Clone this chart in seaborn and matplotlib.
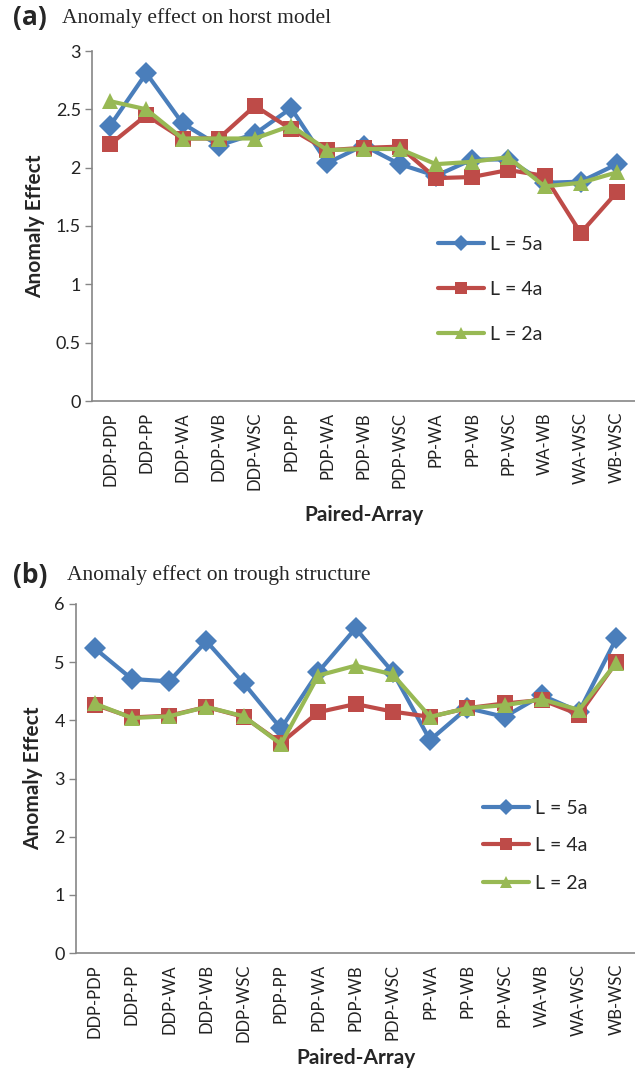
import matplotlib
matplotlib.use("Agg")
import matplotlib.pyplot as plt
import seaborn as sns
import pandas as pd
import numpy as np

pairs = ["DDP-PDP", "DDP-PP", "DDP-WA", "DDP-WB", "DDP-WSC", "PDP-PP", "PDP-WA",
         "PDP-WB", "PDP-WSC", "PP-WA", "PP-WB", "PP-WSC", "WA-WB", "WA-WSC", "WB-WSC"]
series_names = ["L = 5a", "L = 4a", "L = 2a"]

horst_5a = [2.36, 2.81, 2.38, 2.19, 2.29, 2.51, 2.04, 2.19, 2.03, 1.93, 2.07, 2.07, 1.87, 1.88, 2.03]
horst_4a = [2.20, 2.45, 2.25, 2.25, 2.53, 2.33, 2.15, 2.17, 2.18, 1.91, 1.92, 1.98, 1.93, 1.44, 1.79]
horst_2a = [2.57, 2.50, 2.25, 2.25, 2.25, 2.36, 2.15, 2.16, 2.16, 2.03, 2.05, 2.09, 1.84, 1.87, 1.96]

trough_5a = [5.24, 4.71, 4.67, 5.36, 4.64, 3.86, 4.83, 5.58, 4.83, 3.66, 4.21, 4.06, 4.43, 4.15, 5.41]
trough_4a = [4.27, 4.05, 4.08, 4.23, 4.06, 3.61, 4.14, 4.28, 4.15, 4.06, 4.21, 4.29, 4.35, 4.10, 5.00]
trough_2a = [4.29, 4.04, 4.07, 4.23, 4.07, 3.59, 4.77, 4.94, 4.79, 4.06, 4.21, 4.26, 4.36, 4.18, 4.99]

colors = ["#4A7EBB", "#BE4B48", "#98B954"]
markers = ["D", "s", "^"]

def long_df(vals):
    rows = []
    for name, v in zip(series_names, vals):
        for p, y in zip(pairs, v):
            rows.append({"pair": p, "value": y, "series": name})
    return pd.DataFrame(rows)

sns.set_style("white")
plt.rcParams["font.family"] = ["Lato", "DejaVu Sans"]

fig = plt.figure(figsize=(6.35, 10.74), dpi=100)
ax1 = fig.add_axes([92/635, 1-401/1074, 543/635, 350/1074])
ax2 = fig.add_axes([76/635, 1-953/1074, 559/635, 349/1074])

gray = "#868686"

def draw(ax, vals, ymax, ystep, title_letter, title_text, leg_xy, leg_spacing,
         title_y, text_x, xlabel_y):
    df = long_df(vals)
    sns.lineplot(data=df, x="pair", y="value", hue="series", style="series",
                 markers=markers, dashes=False, palette=colors, linewidth=3,
                 markersize=11, markeredgewidth=0, sort=False, ax=ax)
    ax.set_xlim(-0.5, len(pairs) - 0.5)
    ax.set_ylim(0, ymax)
    ticks = np.arange(0, ymax + 1e-9, ystep)
    ax.set_yticks(ticks)
    ax.set_yticklabels([("%g" % t) for t in ticks], fontsize=13, color="#222222")
    ax.set_xticks(range(len(pairs)))
    ax.set_xticklabels(pairs, rotation=90, fontsize=12, color="#222222")
    ax.tick_params(axis="y", length=5, width=1, color=gray, direction="out", left=True, pad=3)
    ax.tick_params(axis="x", length=0, pad=8)
    for s in ["top", "right"]:
        ax.spines[s].set_visible(False)
    for s in ["left", "bottom"]:
        ax.spines[s].set_color(gray)
        ax.spines[s].set_linewidth(1.2)
    ax.set_xlabel("Paired-Array", fontsize=15, fontweight="bold")
    ax.xaxis.set_label_coords(0.5, xlabel_y)
    ax.set_ylabel("Anomaly Effect", fontsize=15, fontweight="bold", labelpad=8)
    leg = ax.legend(loc="upper left", bbox_to_anchor=leg_xy, bbox_transform=fig.transFigure,
                    frameon=False, fontsize=14, handlelength=2.4, handletextpad=0.3,
                    labelspacing=leg_spacing, borderaxespad=0)
    for h in leg.legend_handles:
        h.set_markersize(8)
        h.set_linewidth(3)
    fig.text(13/635, title_y, title_letter, fontsize=19, fontweight="bold",
             family=["Open Sans", "DejaVu Sans"], va="center", ha="left")
    fig.text(text_x, title_y, title_text,
             fontsize=15.5, family="Liberation Serif", va="center", ha="left")

draw(ax1, [horst_5a, horst_4a, horst_2a], 3, 0.5, "(a)", "Anomaly effect on horst model",
     (430/635, 1-228/1074), 1.45, 1-18/1074, 62/635, -0.297)
draw(ax2, [trough_5a, trough_4a, trough_2a], 6, 1, "(b)", "Anomaly effect on trough structure",
     (475/635, 1-792/1074), 1.05, 1-575/1074, 67/635, -0.272)

fig.savefig("out.png", dpi=100)
